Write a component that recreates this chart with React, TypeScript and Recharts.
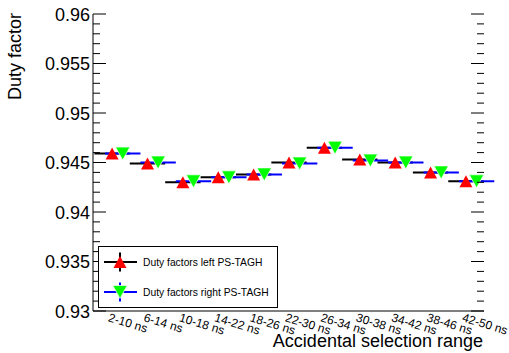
import React from "react";
import { ScatterChart, Scatter, XAxis, YAxis, ErrorBar } from "recharts";

const binLabels = [
  "2-10 ns", "6-14 ns", "10-18 ns", "14-22 ns", "18-26 ns", "22-30 ns",
  "26-34 ns", "30-38 ns", "34-42 ns", "38-46 ns", "42-50 ns",
];
const leftValues = [0.9459, 0.9449, 0.943, 0.9435, 0.9438, 0.945, 0.9465, 0.9453, 0.945, 0.944, 0.9431];
const rightValues = [0.9459, 0.945, 0.9431, 0.9435, 0.9438, 0.9449, 0.9465, 0.9452, 0.945, 0.944, 0.9431];
const yMajorTicks = [0.93, 0.935, 0.94, 0.945, 0.95, 0.955, 0.96];
const xFrameTicks = [1.38, 3.22, 5.06, 6.91, 8.75, 10.59];

const W = 509;
const H = 353;
const PLOT = { left: 93, right: 484, top: 14, bottom: 311 };
const FONT = "'Liberation Sans', Arial, Helvetica, sans-serif";

// bin i sits at i + 0.54 on the x axis, the right-hand graph is nudged a bit
const leftData = leftValues.map((v, i) => ({ x: i + 0.54, y: v, ex: 0.5 }));
const rightData = rightValues.map((v, i) => ({ x: i + 0.84, y: v, ex: 0.5 }));
const labelTicks = leftData.map((d) => d.x);

const yTicks: number[] = [];
yMajorTicks.forEach((t, i) => {
  yTicks.push(t);
  if (i < yMajorTicks.length - 1) for (let k = 1; k < 5; k++) yTicks.push(t + k * 0.001);
});

function UpTri(p: any) {
  const { cx, cy } = p;
  return <polygon points={`${cx},${cy - 6} ${cx + 6.5},${cy + 6} ${cx - 6.5},${cy + 6}`} fill="#ff0000" />;
}

function DownTri(p: any) {
  const { cx, cy } = p;
  return (
    <polygon
      points={`${cx - 7.2},${cy - 6.5} ${cx + 7.2},${cy - 6.5} ${cx},${cy + 6.5}`}
      fill="#00ff00"
      stroke="#fff"
      strokeWidth={0.7}
    />
  );
}

function YTick(props: any) {
  const { y, payload } = props;
  const v = payload.value as number;
  const major = Math.round(v * 1000) % 5 === 0;
  const len = major ? 13 : 7;
  return (
    <g>
      <line x1={PLOT.left} x2={PLOT.left + len} y1={y} y2={y} stroke="#000" />
      <line x1={PLOT.right - len} x2={PLOT.right} y1={y} y2={y} stroke="#000" />
      {major && (
        <text x={90} y={y + 6.5} textAnchor="end" fontSize={18} fontFamily={FONT} fill="#000">
          {parseFloat(v.toFixed(3)).toString()}
        </text>
      )}
    </g>
  );
}

function FrameXTick(props: any) {
  const { x } = props;
  return (
    <g>
      <line x1={x} x2={x} y1={PLOT.top} y2={PLOT.top + 8} stroke="#000" />
      <line x1={x} x2={x} y1={PLOT.bottom - 8} y2={PLOT.bottom} stroke="#000" />
    </g>
  );
}

function BinLabel(props: any) {
  const { x, payload } = props;
  const tx = x - 4.5;
  const ty = PLOT.bottom + 10;
  return (
    <text
      x={tx}
      y={ty}
      transform={`rotate(17, ${tx}, ${ty})`}
      fontSize={12}
      fontFamily={FONT}
      fill="#000"
    >
      {binLabels[payload.index]}
    </text>
  );
}

function LegendBox() {
  const rows = [
    { text: "Duty factors left PS-TAGH", line: "#000", up: true },
    { text: "Duty factors right PS-TAGH", line: "#0000ff", up: false },
  ];
  return (
    <g>
      <rect x={98.5} y={246.5} width={179} height={61} fill="#fff" stroke="#000" />
      {rows.map((r, i) => {
        const cy = 262 + i * 30;
        const cx = 120;
        return (
          <g key={i}>
            <line x1={104} x2={137} y1={cy} y2={cy} stroke={r.line} strokeWidth={2} />
            <line x1={cx} x2={cx} y1={cy - 9.5} y2={cy + 9.5} stroke={r.line} strokeWidth={2} />
            {r.up ? <UpTri cx={cx} cy={cy} /> : <DownTri cx={cx} cy={cy} />}
            <text x={143} y={cy + 3.7} fontSize={10.3} fontFamily={FONT} fill="#000">
              {r.text}
            </text>
          </g>
        );
      })}
    </g>
  );
}

export default function App() {
  return (
    <div style={{ position: "absolute", left: 0, top: 0, width: W, height: H, background: "#fff" }}>
      <ScatterChart width={W} height={H} margin={{ top: PLOT.top, right: W - PLOT.right, bottom: 0, left: 0 }}>
        <XAxis
          xAxisId="x"
          type="number"
          dataKey="x"
          domain={[0, 11.05]}
          allowDataOverflow
          ticks={labelTicks}
          interval={0}
          height={H - PLOT.bottom}
          tickLine={false}
          tick={<BinLabel />}
          axisLine={{ stroke: "#000" }}
        />
        <XAxis
          xAxisId="top"
          orientation="top"
          type="number"
          domain={[0, 11.05]}
          allowDataOverflow
          ticks={xFrameTicks}
          interval={0}
          height={0}
          tickLine={false}
          tick={<FrameXTick />}
          axisLine={{ stroke: "#000" }}
        />
        <YAxis
          yAxisId="y"
          type="number"
          dataKey="y"
          domain={[0.93, 0.96]}
          allowDataOverflow
          ticks={yTicks}
          interval={0}
          width={PLOT.left}
          tickLine={false}
          tick={<YTick />}
          axisLine={{ stroke: "#000" }}
        />
        <YAxis
          yAxisId="right"
          orientation="right"
          type="number"
          domain={[0.93, 0.96]}
          allowDataOverflow
          width={0}
          tick={false}
          tickLine={false}
          axisLine={{ stroke: "#000" }}
        />
        <Scatter xAxisId="x" yAxisId="y" data={leftData} shape={UpTri} isAnimationActive={false}>
          <ErrorBar dataKey="ex" direction="x" width={0} stroke="#000" strokeWidth={2} />
        </Scatter>
        <Scatter xAxisId="x" yAxisId="y" data={rightData} shape={DownTri} isAnimationActive={false}>
          <ErrorBar dataKey="ex" direction="x" width={0} stroke="#0000ff" strokeWidth={2} />
        </Scatter>
      </ScatterChart>
      <svg width={W} height={H} style={{ position: "absolute", left: 0, top: 0, pointerEvents: "none" }}>
        <LegendBox />
        <text
          x={21}
          y={13}
          transform="rotate(-90, 21, 13)"
          textAnchor="end"
          fontSize={18}
          fontFamily={FONT}
          fill="#000"
        >
          Duty factor
        </text>
        <text x={483} y={347} textAnchor="end" fontSize={18} fontFamily={FONT} fill="#000">
          Accidental selection range
        </text>
      </svg>
    </div>
  );
}
